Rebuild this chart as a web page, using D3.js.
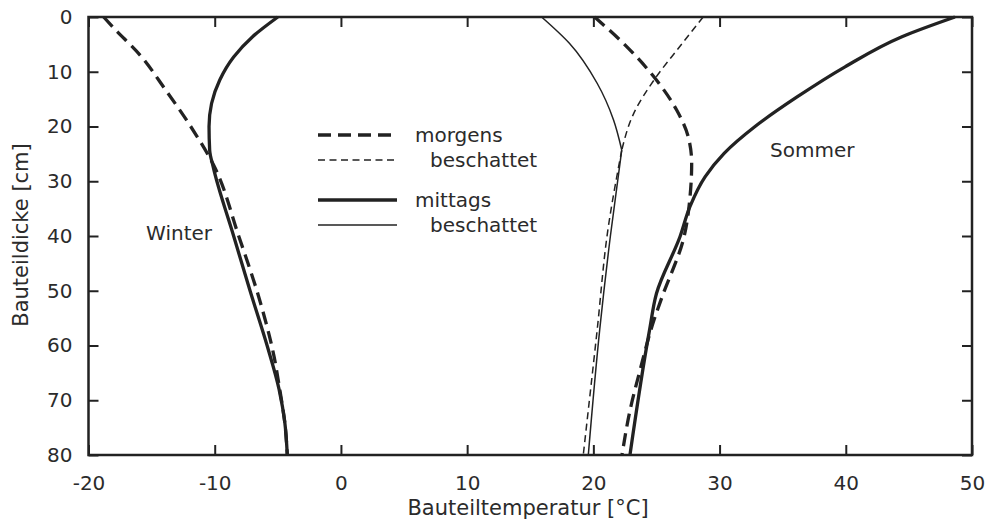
<!DOCTYPE html>
<html>
<head>
<meta charset="utf-8">
<script src="https://cdn.jsdelivr.net/npm/d3@7"></script>
<style>
  body { margin: 0; background: #fff; }
  svg text { font-family: "DejaVu Sans", sans-serif; fill: #2b2b2b; }
</style>
</head>
<body>
<div id="chart"></div>
<script>
// [Bauteildicke cm, Bauteiltemperatur °C]
const winterMorgens = [[0, -18.8], [2, -18.0], [7, -15.9], [13.3, -13.9], [20, -11.9], [27, -10.1],
  [40, -8.1], [52, -6.4], [62, -5.3], [68, -4.85], [74, -4.45], [80, -4.25]]
const winterMittags = [[0, -5.0], [3.6, -7.0], [7.3, -8.5], [11.5, -9.6], [15.8, -10.25], [20, -10.45], [24.3, -10.4],
  [27.3, -10.13], [40, -8.5], [50, -7.2], [60, -5.85], [68, -4.9], [74, -4.45], [80, -4.25]]
const sommerMorgens = [[0, 20.1], [5.4, 22.64], [11.2, 24.89], [17, 26.6], [21.9, 27.52], [26.7, 27.79], [32.8, 27.66],
  [40, 27.2], [51.1, 25.45], [55.3, 24.81], [64.5, 23.7], [71.8, 22.91], [80, 22.27]]
const sommerMittags = [[0, 48.65], [3.6, 44.45], [9.1, 39.94], [14.6, 36.14], [20, 32.81], [24.9, 30.36], [29.2, 28.85],
  [34.6, 27.66], [40.1, 26.87], [50.5, 25.0], [57.2, 24.45], [80, 22.9]]
const sommerMorgensBeschattet = [[0, 28.7], [5.4, 26.85], [11.2, 24.9], [17.6, 23.2], [24.3, 22.25],
  [38.9, 21.15], [57.2, 20.3], [80, 19.2]]
const sommerMittagsBeschattet = [[0, 15.9], [4.8, 18.1], [12.1, 20.3], [18.8, 21.6], [24.3, 22.25],
  [40, 21.35], [57.2, 20.5], [80, 19.6]]
const KNICK = 24.3

const xTicks = [-20, -10, 0, 10, 20, 30, 40, 50]
const yTicks = [0, 10, 20, 30, 40, 50, 60, 70, 80]
const legendLabels = ['morgens', 'beschattet', 'mittags', 'beschattet']

const W = 988, H = 530
const margin = {top: 17, right: 16, bottom: 75, left: 88.5}
const width = W - margin.left - margin.right
const height = H - margin.top - margin.bottom
const ink = '#222'

const styles = {
  thickDash: {w: 3.3, dash: '13,7'},
  thinDash: {w: 1.5, dash: '7,4.5'},
  thick: {w: 3.3, dash: null},
  thin: {w: 1.5, dash: null},
}

const x = d3.scaleLinear().domain([-20, 50]).range([0, width])
const y = d3.scaleLinear().domain([0, 80]).range([0, height])

const svg = d3.select('#chart').append('svg')
  .attr('width', W)
  .attr('height', H)
  .append('g')
  .attr('transform', 'translate(' + margin.left + ',' + margin.top + ')')

const styleAxis = g => {
  g.select('.domain').remove()
  g.selectAll('line').attr('stroke', ink).attr('stroke-width', 2)
  g.selectAll('text').attr('font-size', 20).attr('fill', '#2b2b2b').attr('font-family', '"DejaVu Sans", sans-serif')
}

svg.append('g')
  .attr('transform', 'translate(0,' + height + ')')
  .call(d3.axisBottom(x).tickValues(xTicks).tickSizeInner(-10).tickSizeOuter(0).tickPadding(21).tickFormat(d => String(d)))
  .call(styleAxis)

svg.append('g')
  .call(d3.axisTop(x).tickValues(xTicks).tickSizeInner(-10).tickSizeOuter(0).tickFormat(''))
  .call(styleAxis)

svg.append('g')
  .call(d3.axisLeft(y).tickValues(yTicks).tickSizeInner(-10).tickSizeOuter(0).tickPadding(16))
  .call(styleAxis)

svg.append('g')
  .attr('transform', 'translate(' + width + ',0)')
  .call(d3.axisRight(y).tickValues(yTicks).tickSizeInner(-10).tickSizeOuter(0).tickFormat(''))
  .call(styleAxis)

// frame
svg.append('rect')
  .attr('width', width)
  .attr('height', height)
  .attr('fill', 'none')
  .attr('stroke', ink)
  .attr('stroke-width', 2.5)

const line = d3.line()
  .x(d => x(d[1]))
  .y(d => y(d[0]))
  .curve(d3.curveMonotoneY)

const drawPath = (pts, st) => {
  svg.append('path')
    .datum(pts)
    .attr('fill', 'none')
    .attr('stroke', ink)
    .attr('stroke-width', st.w)
    .attr('stroke-dasharray', st.dash)
    .attr('d', line)
}

drawPath(winterMorgens, styles.thickDash)
drawPath(winterMittags, styles.thick)
drawPath(sommerMorgens, styles.thickDash)
drawPath(sommerMittags, styles.thick)

// beschattet lines have a sharp corner at KNICK
;[[sommerMorgensBeschattet, styles.thinDash], [sommerMittagsBeschattet, styles.thin]].forEach(([data, st]) => {
  drawPath(data.filter(d => d[0] <= KNICK), st)
  drawPath(data.filter(d => d[0] >= KNICK), st)
})

// legend
const legendStyles = [styles.thickDash, styles.thinDash, styles.thick, styles.thin]
const legendY = [135, 160, 200, 225]
const legendTextX = [415, 430, 415, 430]
const legend = d3.select('svg').append('g')
legendStyles.forEach((st, i) => {
  legend.append('line')
    .attr('x1', 318).attr('x2', 397)
    .attr('y1', legendY[i]).attr('y2', legendY[i])
    .attr('stroke', ink)
    .attr('stroke-width', st.w)
    .attr('stroke-dasharray', st.dash)
  legend.append('text')
    .attr('x', legendTextX[i])
    .attr('y', legendY[i] + 7)
    .attr('font-size', 20)
    .text(legendLabels[i])
})

const root = d3.select('svg')
root.append('text')
  .attr('x', 212).attr('y', 240)
  .attr('text-anchor', 'end')
  .attr('font-size', 20)
  .text('Winter')

root.append('text')
  .attr('x', 770).attr('y', 157)
  .attr('font-size', 20)
  .text('Sommer')

root.append('text')
  .attr('x', 528).attr('y', 515)
  .attr('text-anchor', 'middle')
  .attr('font-size', 21)
  .text('Bauteiltemperatur [°C]')

root.append('text')
  .attr('transform', 'translate(28,235) rotate(-90)')
  .attr('text-anchor', 'middle')
  .attr('font-size', 21)
  .text('Bauteildicke [cm]')
</script>
</body>
</html>
